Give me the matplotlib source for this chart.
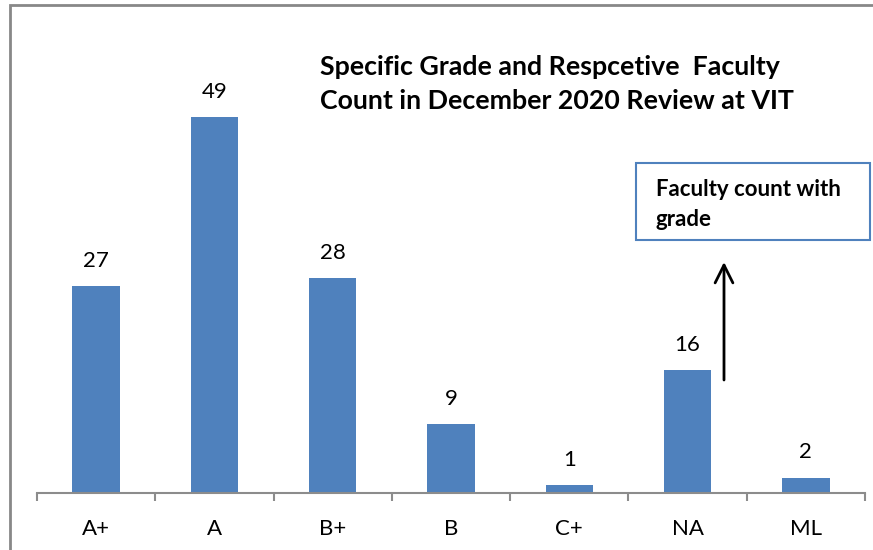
import matplotlib.pyplot as plt
from matplotlib.patches import Rectangle

grades = ['A+', 'A', 'B+', 'B', 'C+', 'NA', 'ML']
counts = [27, 49, 28, 9, 1, 16, 2]

W, H = 873, 550
plt.rcParams['font.family'] = ['Lato', 'DejaVu Sans']

fig = plt.figure(figsize=(W / 100, H / 100), dpi=100)
# axes placed in pixel terms: x 37..865, baseline at y=493
ax = fig.add_axes([37 / W, (H - 493) / H, (865 - 37) / W, (493 - 33) / H])

x = list(range(len(grades)))
bars = ax.bar(x, counts, width=0.4, color='#4F81BD')
ax.set_xlim(-0.5, len(grades) - 0.5)
ax.set_ylim(0, 60)

for xi, c in zip(x, counts):
    ax.annotate(str(c), (xi, c), xytext=(0, 11), textcoords='offset points',
                ha='center', va='bottom', fontsize=16)

for s in ['top', 'right', 'left']:
    ax.spines[s].set_visible(False)
ax.spines['bottom'].set_color('#8c8c8c')
ax.spines['bottom'].set_linewidth(1.5)
ax.set_yticks([])
ax.set_xticks(x)
ax.set_xticklabels(grades, fontsize=16)
ax.tick_params(axis='x', which='major', length=0, pad=19)
ax.set_xticks([i - 0.5 for i in range(len(grades) + 1)], minor=True)
ax.tick_params(axis='x', which='minor', length=6, width=1.5, color='#8c8c8c')

# outer chart border (cropped, continues off image)
fig.patches.append(Rectangle((10 / W, -0.1), 1.2, (H - 5) / H + 0.1,
                             transform=fig.transFigure, fill=False,
                             edgecolor='#888888', linewidth=2))

fig.text(320 / W, 1 - 67 / H, 'Specific Grade and Respcetive  Faculty',
         fontsize=19.3, fontweight='bold', va='center', ha='left')
fig.text(320 / W, 1 - 101 / H, 'Count in December 2020 Review at VIT',
         fontsize=19.3, fontweight='bold', va='center', ha='left')

# annotation box
fig.patches.append(Rectangle((636 / W, 1 - 240 / H), (870 - 636) / W, 77 / H,
                             transform=fig.transFigure, fill=False,
                             edgecolor='#4F81BD', linewidth=1.5))
fig.text(656 / W, 1 - 190 / H, 'Faculty count with', fontsize=16,
         fontweight='bold', va='center', ha='left')
fig.text(656 / W, 1 - 219 / H, 'grade', fontsize=16,
         fontweight='bold', va='center', ha='left')
ax.annotate('', xy=(724 / W, 1 - 262 / H), xytext=(724 / W, 1 - 380 / H),
            xycoords='figure fraction',
            arrowprops=dict(arrowstyle='->', color='black', lw=2,
                            mutation_scale=32, shrinkA=0, shrinkB=0))

fig.savefig('out.png', dpi=100)
